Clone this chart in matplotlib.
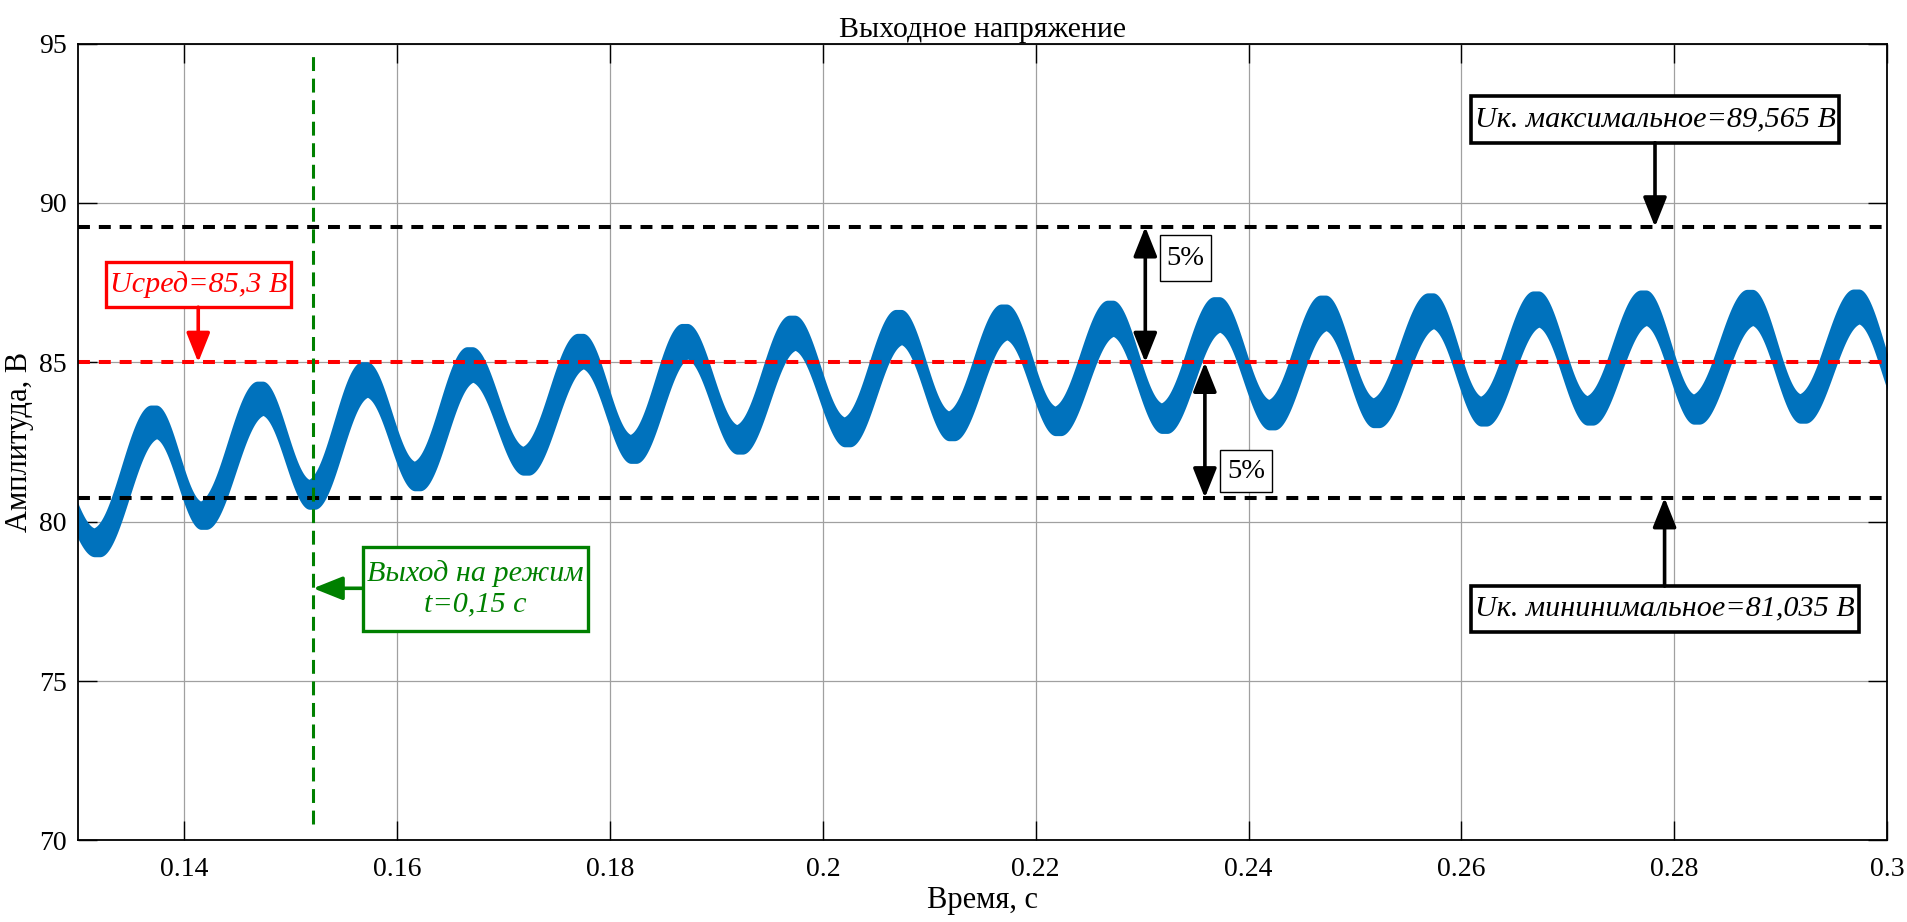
import numpy as np
import matplotlib
matplotlib.use('Agg')
import matplotlib.pyplot as plt
from matplotlib.patches import Rectangle
from numpy.lib.stride_tricks import sliding_window_view

plt.rcParams['font.family'] = ['Liberation Serif', 'DejaVu Serif']
plt.rcParams['lines.scale_dashes'] = False

# ---- data ----
# extremes of the upper edge of the ripple band (time, s ; voltage, V)
upper_t = [0.1268, 0.1315, 0.1371, 0.1415, 0.1471, 0.1517, 0.1569, 0.1616, 0.1668,
           0.1718, 0.1772, 0.1819, 0.1870, 0.1919, 0.1971, 0.2020, 0.2071, 0.2118,
           0.2170, 0.2218, 0.2270, 0.2318, 0.2370, 0.2419, 0.2470, 0.2517, 0.2571,
           0.2618, 0.2670, 0.2718, 0.2771, 0.2818, 0.2871, 0.2918, 0.2971, 0.3018]
upper_v = [82.40, 79.79, 83.66, 80.63, 84.41, 81.31, 85.02, 81.88, 85.49,
           82.35, 85.91, 82.72, 86.22, 83.03, 86.48, 83.27, 86.66, 83.46,
           86.83, 83.61, 86.95, 83.71, 87.06, 83.82, 87.11, 83.87, 87.18,
           83.92, 87.24, 83.94, 87.27, 83.99, 87.29, 84.00, 87.30, 84.02]
# extremes of the lower edge of the ripple band
lower_t = [0.1271, 0.1318, 0.1374, 0.1418, 0.1474, 0.1520, 0.1572, 0.1619, 0.1671,
           0.1721, 0.1775, 0.1822, 0.1873, 0.1922, 0.1974, 0.2023, 0.2074, 0.2121,
           0.2173, 0.2221, 0.2273, 0.2321, 0.2373, 0.2422, 0.2473, 0.2520, 0.2574,
           0.2621, 0.2673, 0.2721, 0.2774, 0.2821, 0.2874, 0.2921, 0.2974, 0.3021]
lower_v = [81.20, 78.90, 82.62, 79.76, 83.35, 80.39, 83.92, 80.97, 84.39,
           81.46, 84.81, 81.83, 85.12, 82.12, 85.39, 82.35, 85.57, 82.54,
           85.72, 82.70, 85.83, 82.77, 85.96, 82.88, 86.01, 82.95, 86.07,
           83.00, 86.12, 83.03, 86.17, 83.06, 86.17, 83.09, 86.22, 83.10]
ripple_halfwidth = 0.00024   # horizontal smear of the fast switching ripple, s

u_mean = 85.0          # red reference line
u_max = 89.25          # +5 %
u_min = 80.75          # -5 %
t_settle = 0.1521      # green vertical line

xticks = [0.14, 0.16, 0.18, 0.2, 0.22, 0.24, 0.26, 0.28, 0.3]
xticklabels = ['0.14', '0.16', '0.18', '0.2', '0.22', '0.24', '0.26', '0.28', '0.3']
yticks = [70, 75, 80, 85, 90, 95]

title = 'Выходное напряжение'
xlabel = 'Время, с'
ylabel = 'Амплитуда, В'
lbl_mean = 'Uсред=85,3 В'
lbl_settle = 'Выход на режим\nt=0,15 с'
lbl_max = 'Uк. максимальное=89,565 В'
lbl_min = 'Uк. мининимальное=81,035 В'
lbl_pct = '5%'


def envelope(tq, te, ve):
    te = np.asarray(te)
    ve = np.asarray(ve)
    i = np.clip(np.searchsorted(te, tq, side='right') - 1, 0, len(te) - 2)
    s = (tq - te[i]) / (te[i + 1] - te[i])
    return ve[i] + (ve[i + 1] - ve[i]) * (1 - np.cos(np.pi * s)) / 2


dt = 1e-5
tt = np.arange(0.1295, 0.3005 + dt / 2, dt)
w = int(round(ripple_halfwidth / dt))
up_raw = envelope(tt, upper_t, upper_v)
lo_raw = envelope(tt, lower_t, lower_v)
up = sliding_window_view(up_raw, 2 * w + 1).max(axis=1)
lo = sliding_window_view(lo_raw, 2 * w + 1).min(axis=1)
tc = tt[w:len(tt) - w]

fig = plt.figure(figsize=(19.07, 9.22), dpi=100)
ax = fig.add_axes([0.0409, 0.0885, 0.9486, 0.8642])

ax.fill_between(tc, lo, up, color='#0072BD', lw=0, zorder=3)

ax.set_xlim(0.13, 0.30)
ax.set_ylim(70, 95)
ax.set_xticks(xticks)
ax.set_xticklabels(xticklabels)
ax.set_yticks(yticks)
ax.grid(True, color='#a0a0a0', lw=0.9, zorder=0)
ax.set_axisbelow(True)
ax.tick_params(direction='in', length=14, width=1, top=True, right=True,
               labelsize=20, pad=8)
ax.tick_params(axis='x', pad=12)
for sp in ax.spines.values():
    sp.set_linewidth(1.3)
    sp.set_zorder(10)

ax.set_title(title, fontsize=21.5, pad=5)
ax.set_xlabel(xlabel, fontsize=22, labelpad=3)
ax.set_ylabel(ylabel, fontsize=22, labelpad=4)

# reference lines
ax.axhline(u_max, color='black', lw=2.9, dashes=(8.6, 6.4), zorder=5)
ax.axhline(u_min, color='black', lw=2.9, dashes=(8.6, 6.4), zorder=5)
ax.axhline(u_mean, color='#ff0000', lw=2.9, dashes=(8.6, 6.4), zorder=5)
ax.plot([t_settle, t_settle], [70.5, 94.8], color='#008000', lw=2.2,
        dashes=(10, 5.5), zorder=5)


def box(x0, x1, y0, y1, text, color, lw, style='italic', fs=21.7):
    ax.add_patch(Rectangle((x0, y0), x1 - x0, y1 - y0, facecolor='white',
                           edgecolor=color, lw=lw, zorder=7))
    ax.text((x0 + x1) / 2, (y0 + y1) / 2, text, color=color, fontsize=fs,
            style=style, ha='center', va='center', zorder=8, linespacing=1.25)


def arrow(x0, y0, x1, y1, color, style='-|>'):
    ax.annotate('', xy=(x1, y1), xytext=(x0, y0), zorder=8,
                arrowprops=dict(arrowstyle=style + ',head_length=0.45,head_width=0.18',
                                mutation_scale=40, lw=2.6, color=color,
                                shrinkA=0, shrinkB=0))


# red label
box(0.13263, 0.15006, 86.73, 88.16, lbl_mean, '#ff0000', 2.4)
arrow(0.1413, 86.73, 0.1413, u_mean, '#ff0000')
# green label
box(0.15678, 0.17793, 76.58, 79.21, lbl_settle, '#008000', 2.4)
arrow(0.15678, 77.91, t_settle, 77.91, '#008000')
# max label
box(0.26091, 0.29549, 91.89, 93.37, lbl_max, 'black', 2.6)
arrow(0.2782, 91.89, 0.2782, u_max, 'black')
# min label
box(0.26095, 0.29735, 76.55, 77.98, lbl_min, 'black', 2.6)
arrow(0.2791, 77.98, 0.2791, u_min, 'black')
# 5 % labels
box(0.23168, 0.23644, 87.54, 88.99, lbl_pct, 'black', 1.0, style='normal', fs=20.5)
arrow(0.2303, u_max, 0.2303, u_mean, 'black', style='<|-|>')
box(0.23731, 0.24224, 80.92, 82.25, lbl_pct, 'black', 1.0, style='normal', fs=20.5)
arrow(0.2359, u_mean, 0.2359, u_min, 'black', style='<|-|>')

fig.savefig('out.png', dpi=100)
